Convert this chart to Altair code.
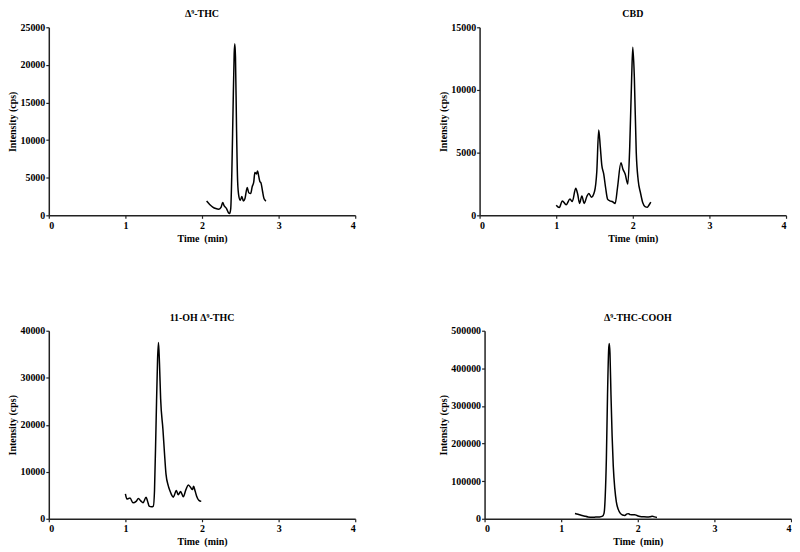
import altair as alt
import pandas as pd

# ---- data ----
thc_t = [2.06, 2.10, 2.14, 2.18, 2.22, 2.25, 2.27, 2.29, 2.32, 2.345, 2.36, 2.375, 2.39, 2.405,
         2.42, 2.428, 2.437, 2.45, 2.465, 2.48, 2.50, 2.52, 2.54, 2.56, 2.59, 2.61, 2.635, 2.655,
         2.675, 2.69, 2.71, 2.725, 2.74, 2.755, 2.77, 2.79, 2.81, 2.835]
thc_v = [1900, 1450, 1100, 900, 820, 1100, 1700, 1250, 900, 350, 250, 900, 6000, 14000,
         21500, 22800, 21000, 12000, 4500, 2600, 2000, 2500, 1900, 2200, 3700, 3000, 2900, 3800,
         4400, 5700, 5500, 5900, 5200, 4500, 4300, 3200, 2200, 1900]

cbd_t = [1.00, 1.04, 1.08, 1.13, 1.18, 1.21, 1.255, 1.28, 1.305, 1.335, 1.365, 1.40, 1.425, 1.46,
         1.50, 1.53, 1.555, 1.575, 1.595, 1.62, 1.645, 1.67, 1.70, 1.73, 1.77, 1.80, 1.845, 1.87,
         1.90, 1.935, 1.96, 1.985, 2.00, 2.02, 2.045, 2.07, 2.10, 2.13, 2.16, 2.19, 2.21, 2.235]
cbd_v = [800, 620, 1150, 850, 1300, 1100, 2150, 1700, 950, 1550, 950, 1500, 1750, 1450,
         1900, 3500, 6800, 5500, 4000, 3300, 2200, 1300, 1150, 1100, 950, 2200, 4200, 3700,
         3300, 2500, 5500, 11000, 13400, 11000, 5000, 2800, 1800, 1000, 700, 650, 800, 1050]

oh_t = [1.00, 1.02, 1.04, 1.06, 1.10, 1.14, 1.17, 1.20, 1.23, 1.27, 1.29, 1.31, 1.34, 1.365,
        1.38, 1.40, 1.42, 1.432, 1.445, 1.46, 1.49, 1.51, 1.53, 1.56, 1.58, 1.60, 1.625, 1.665,
        1.69, 1.72, 1.755, 1.79, 1.82, 1.85, 1.875, 1.89, 1.91, 1.93, 1.96, 1.99]
oh_v = [5300, 4200, 4300, 4400, 3400, 3700, 4300, 3800, 3400, 4600, 3700, 2700, 2550, 2700,
        6000, 20000, 34000, 37500, 33000, 25500, 19000, 14000, 9500, 7000, 6000, 5200, 4600, 6000,
        5100, 5800, 4700, 6200, 7200, 6700, 6200, 6900, 5900, 4800, 3900, 3700]

cooh_t = [1.18, 1.22, 1.26, 1.30, 1.35, 1.40, 1.45, 1.50, 1.54, 1.56, 1.575, 1.59, 1.605, 1.62,
          1.628, 1.637, 1.65, 1.665, 1.68, 1.70, 1.72, 1.745, 1.77, 1.80, 1.83, 1.86, 1.88, 1.90,
          1.93, 1.96, 1.99, 2.03, 2.08, 2.12, 2.16, 2.19, 2.22, 2.25]
cooh_v = [14000, 12000, 9500, 7500, 5000, 4000, 4500, 5000, 7000, 15000, 60000, 160000, 330000, 450000,
          466000, 440000, 330000, 220000, 140000, 80000, 45000, 25000, 15000, 10000, 9000, 13000, 13500, 11000,
          10500, 11000, 8500, 6000, 5200, 5000, 5500, 7000, 5000, 3500]

titles = ["\u0394\u2079-THC", "CBD", "11-OH \u0394\u2079-THC", "\u0394\u2079-THC-COOH"]
x_ticks = [0, 1, 2, 3, 4]
y_max = [25000, 15000, 40000, 500000]
y_step = [5000, 5000, 10000, 100000]

FONT = "Liberation Serif"
W, H = 308, 189


def panel(t, v, title, ymax, ystep):
    df = pd.DataFrame({"t": t, "v": v})
    return alt.Chart(df, title=alt.Title(title)).mark_line(
        color="black", strokeWidth=1.5, interpolate="monotone"
    ).encode(
        x=alt.X("t:Q", scale=alt.Scale(domain=[0, 4], nice=False),
                axis=alt.Axis(values=x_ticks, format="d", title="Time\u00a0\u00a0(min)")),
        y=alt.Y("v:Q", scale=alt.Scale(domain=[0, ymax], nice=False),
                axis=alt.Axis(values=list(range(0, ymax + 1, ystep)), format="d",
                              title="Intensity (cps)")),
    ).properties(width=W, height=H)


p1 = panel(thc_t, thc_v, titles[0], y_max[0], y_step[0])
p2 = panel(cbd_t, cbd_v, titles[1], y_max[1], y_step[1])
p3 = panel(oh_t, oh_v, titles[2], y_max[2], y_step[2])
p4 = panel(cooh_t, cooh_v, titles[3], y_max[3], y_step[3])

row1 = alt.hconcat(p1, p2, spacing=83)
row2 = alt.hconcat(p3, p4, spacing=83)

chart = alt.vconcat(row1, row2, spacing=70).properties(
    padding={"left": 0, "top": 0, "right": 0, "bottom": 0}
).configure_view(stroke=None).configure_axis(
    grid=False,
    domainColor="#222222", domainWidth=1.5,
    tickColor="#222222", tickSize=3, tickWidth=1.2,
    labelFont=FONT, labelFontWeight="bold", labelFontSize=10, labelColor="black",
    labelPadding=1,
    titleFont=FONT, titleFontWeight="bold", titleFontSize=10, titleColor="black",
).configure_axisX(titlePadding=3, labelPadding=2).configure_axisY(titlePadding=2).configure_title(
    font=FONT, fontSize=10, fontWeight="bold", color="black", anchor="middle", offset=3
)

chart.save("out.html", embed_options={"renderer": "svg", "actions": False})
